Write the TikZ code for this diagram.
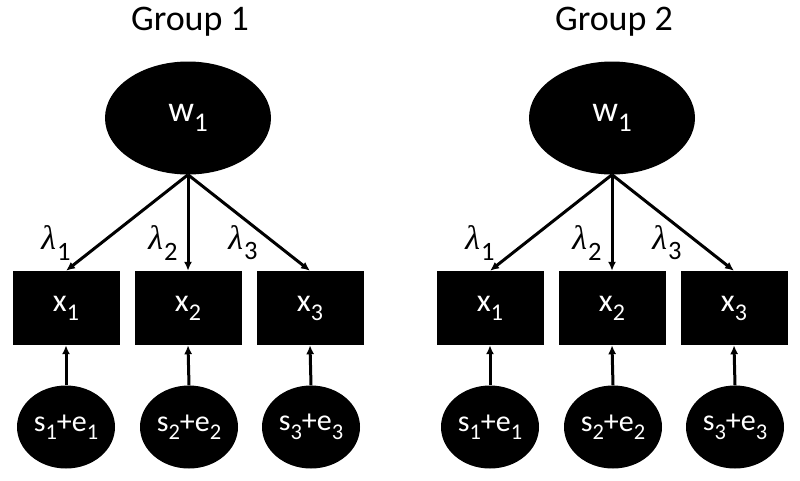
\documentclass[tikz,border=0pt]{standalone}
\usepackage{fontspec}
\setmainfont{Carlito}
\newfontfamily\lamfont{Liberation Serif}
\usetikzlibrary{shapes.geometric,arrows.meta}
\newcommand{\sbx}[1]{\raisebox{-0.28em}{\scalebox{0.75}{#1}}}
\newcommand{\lamsym}[1]{{\lamfont\itshape λ}\kern1pt\raisebox{-0.3em}{\scalebox{0.78}{#1}}}
\begin{document}
\begin{tikzpicture}[x=1pt,y=-1pt,
  latent/.style={ellipse,fill=black,draw=none,text=white,inner sep=0pt},
  obsbox/.style={rectangle,fill=black,draw=none,text=white,minimum width=107pt,minimum height=74pt,inner sep=0pt,font=\fontsize{32}{32}\selectfont},
  errell/.style={latent,minimum width=98pt,minimum height=83pt,font=\fontsize{30}{30}\selectfont},
  arr/.style={line width=3pt,-{Latex[length=9pt,width=8pt]}},
  lam/.style={inner sep=0pt,font=\fontsize{34}{34}\selectfont},
  ttl/.style={inner sep=0pt,font=\fontsize{36}{36}\selectfont}]
\useasboundingbox (0,0) rectangle (800,480);
\foreach \g/\dx in {1/0,2/424} {
  \begin{scope}[xshift=\dx pt]
    \node[ttl] (title-\g) at (190,22) {Group \g};
    \node[latent,minimum width=166pt,minimum height=113pt,font=\fontsize{36}{36}\selectfont] (w-\g) at (188,118) {\raisebox{-6pt}{w\sbx{1}}};
    \node[obsbox] (xa-\g) at (66,308) {\raisebox{-6pt}{x\sbx{1}}};
    \node[obsbox] (xb-\g) at (188,308) {\raisebox{-6pt}{x\sbx{2}}};
    \node[obsbox] (xc-\g) at (310,308) {\raisebox{-6pt}{x\sbx{3}}};
    \node[errell] (ea-\g) at (66,427) {\raisebox{-4pt}{s\sbx{1}+e\sbx{1}}};
    \node[errell] (eb-\g) at (189,427) {\raisebox{-4pt}{s\sbx{2}+e\sbx{2}}};
    \node[errell] (ec-\g) at (311,427) {\raisebox{-4pt}{s\sbx{3}+e\sbx{3}}};
    \draw[arr] (w-\g.south) -- (xa-\g.north);
    \draw[arr] (w-\g.south) -- (xb-\g.north);
    \draw[arr] (w-\g.south) -- (xc-\g.north);
    \draw[arr] (ea-\g.north) -- (xa-\g.south);
    \draw[arr] (eb-\g.north) -- (xb-\g.south);
    \draw[arr] (ec-\g.north) -- (xc-\g.south);
    \node[lam] (la-\g) at (56,243) {\lamsym{1}};
    \node[lam] (lb-\g) at (163,243) {\lamsym{2}};
    \node[lam] (lc-\g) at (243,243) {\lamsym{3}};
  \end{scope}
}
\end{tikzpicture}
\end{document}
